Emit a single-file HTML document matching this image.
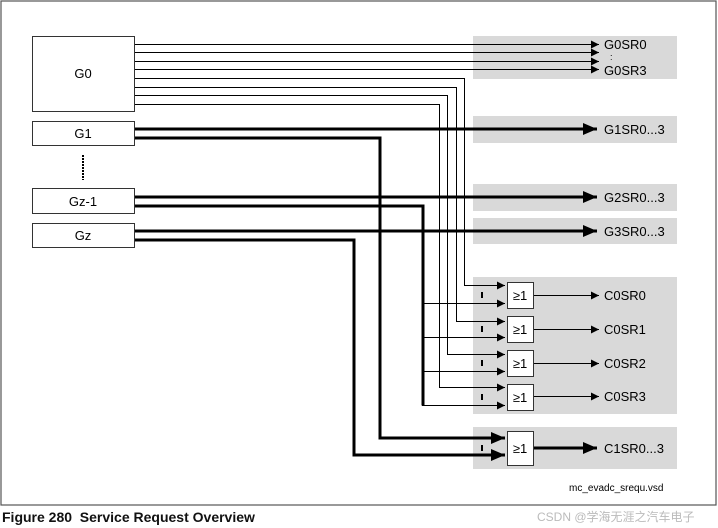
<!DOCTYPE html>
<html><head><meta charset="utf-8"><style>
body{margin:0;background:#fff;width:718px;height:528px;overflow:hidden}
svg{display:block}
text{font-family:"Liberation Sans",Arial,sans-serif}
</style></head><body>
<svg width="718" height="528" viewBox="0 0 718 528" xmlns="http://www.w3.org/2000/svg">
<defs>
<marker id="a" markerWidth="8" markerHeight="8" refX="8" refY="4" orient="auto" markerUnits="userSpaceOnUse"><path d="M0,0 L8,4 L0,8z" fill="#000"/></marker>
<marker id="b" markerWidth="14" markerHeight="12" refX="14" refY="6" orient="auto" markerUnits="userSpaceOnUse"><path d="M0,0 L14,6 L0,12z" fill="#000"/></marker>
</defs>
<rect x="1" y="1" width="715" height="504" fill="none" stroke="#555" stroke-width="1.2"/>
<!-- gray boxes -->
<g fill="#d9d9d9">
<rect x="473" y="36" width="204" height="43"/>
<rect x="473" y="116" width="204" height="27"/>
<rect x="473" y="184" width="204" height="27"/>
<rect x="473" y="218" width="204" height="26"/>
<rect x="473" y="277" width="204" height="137"/>
<rect x="473" y="427" width="204" height="42"/>
</g>
<!-- blocks -->
<g fill="#fff" stroke="#333" stroke-width="1">
<rect x="32.5" y="36.5" width="102" height="75"/>
<rect x="32.5" y="121.5" width="102" height="24"/>
<rect x="32.5" y="188.5" width="102" height="25"/>
<rect x="32.5" y="223.5" width="102" height="24"/>
</g>
<line x1="83" y1="155" x2="83" y2="180" stroke="#000" stroke-width="2" stroke-dasharray="2,1"/>
<g font-size="13" text-anchor="middle" fill="#000">
<text x="83" y="78">G0</text><text x="83" y="138">G1</text><text x="83" y="206">Gz-1</text><text x="83" y="240">Gz</text>
</g>
<!-- thin lines -->
<g stroke="#000" stroke-width="1" fill="none">
<line x1="135" y1="44.5" x2="599" y2="44.5" marker-end="url(#a)"/>
<line x1="135" y1="52.5" x2="599" y2="52.5" marker-end="url(#a)"/>
<line x1="135" y1="61.5" x2="599" y2="61.5" marker-end="url(#a)"/>
<line x1="135" y1="69.5" x2="599" y2="69.5" marker-end="url(#a)"/>
<polyline points="135,78.5 464.5,78.5 464.5,285.5 505,285.5" marker-end="url(#a)"/>
<polyline points="135,87.5 456.5,87.5 456.5,321.5 505,321.5" marker-end="url(#a)"/>
<polyline points="135,95.5 447.5,95.5 447.5,354.5 505,354.5" marker-end="url(#a)"/>
<polyline points="135,104.5 439.5,104.5 439.5,387.5 505,387.5" marker-end="url(#a)"/>
<line x1="422" y1="303.5" x2="505" y2="303.5" marker-end="url(#a)"/>
<line x1="422" y1="337.5" x2="505" y2="337.5" marker-end="url(#a)"/>
<line x1="422" y1="371.5" x2="505" y2="371.5" marker-end="url(#a)"/>
<line x1="422" y1="405.5" x2="505" y2="405.5" marker-end="url(#a)"/>
<line x1="533" y1="295.5" x2="599" y2="295.5" marker-end="url(#a)"/>
<line x1="533" y1="329.5" x2="599" y2="329.5" marker-end="url(#a)"/>
<line x1="533" y1="363.5" x2="599" y2="363.5" marker-end="url(#a)"/>
<line x1="533" y1="396.5" x2="599" y2="396.5" marker-end="url(#a)"/>
</g>
<!-- thick lines -->
<g stroke="#000" stroke-width="3" fill="none">
<line x1="135" y1="129" x2="597" y2="129" marker-end="url(#b)"/>
<line x1="135" y1="197" x2="597" y2="197" marker-end="url(#b)"/>
<line x1="135" y1="231" x2="597" y2="231" marker-end="url(#b)"/>
<polyline points="135,138 380,138 380,438 505,438" marker-end="url(#b)"/>
<polyline points="135,206 423,206 423,405.5"/>
<polyline points="135,240 354,240 354,455 505,455" marker-end="url(#b)"/>
<line x1="533" y1="448" x2="597" y2="448" marker-end="url(#b)"/>
</g>
<!-- gates -->
<g fill="#fff" stroke="#333" stroke-width="1">
<rect x="507.5" y="282.5" width="26" height="26"/>
<rect x="507.5" y="316.5" width="26" height="26"/>
<rect x="507.5" y="350.5" width="26" height="26"/>
<rect x="507.5" y="384.5" width="26" height="26"/>
<rect x="507.5" y="431.5" width="26" height="34"/>
</g>
<g font-size="13" text-anchor="middle">
<text x="520" y="300">≥1</text><text x="520" y="334">≥1</text><text x="520" y="368">≥1</text><text x="520" y="402">≥1</text><text x="520" y="453">≥1</text>
</g>
<g fill="#000">
<rect x="481" y="292" width="2" height="6"/><rect x="481" y="326" width="2" height="6"/><rect x="481" y="360" width="2" height="6"/><rect x="481" y="394" width="2" height="6"/><rect x="481" y="445" width="2" height="6"/>
</g>
<g font-size="13" fill="#000">
<text x="604" y="49">G0SR0</text><text x="610" y="60" font-size="9">:</text><text x="604" y="75">G0SR3</text>
<text x="604" y="134">G1SR0...3</text><text x="604" y="202">G2SR0...3</text><text x="604" y="236">G3SR0...3</text>
<text x="604" y="300">C0SR0</text><text x="604" y="334">C0SR1</text><text x="604" y="368">C0SR2</text><text x="604" y="401">C0SR3</text>
<text x="604" y="453">C1SR0...3</text>
<text x="569" y="491" font-size="10">mc_evadc_srequ.vsd</text>
</g>
<text x="2" y="522" font-size="14" font-weight="bold" fill="#111">Figure 280 &#160;Service Request Overview</text>
<text x="537" y="521" font-size="12" fill="#bbb" style='font-family:"Liberation Sans","Noto Sans CJK SC",sans-serif'>CSDN @学海无涯之汽车电子</text>
</svg>
</body></html>
